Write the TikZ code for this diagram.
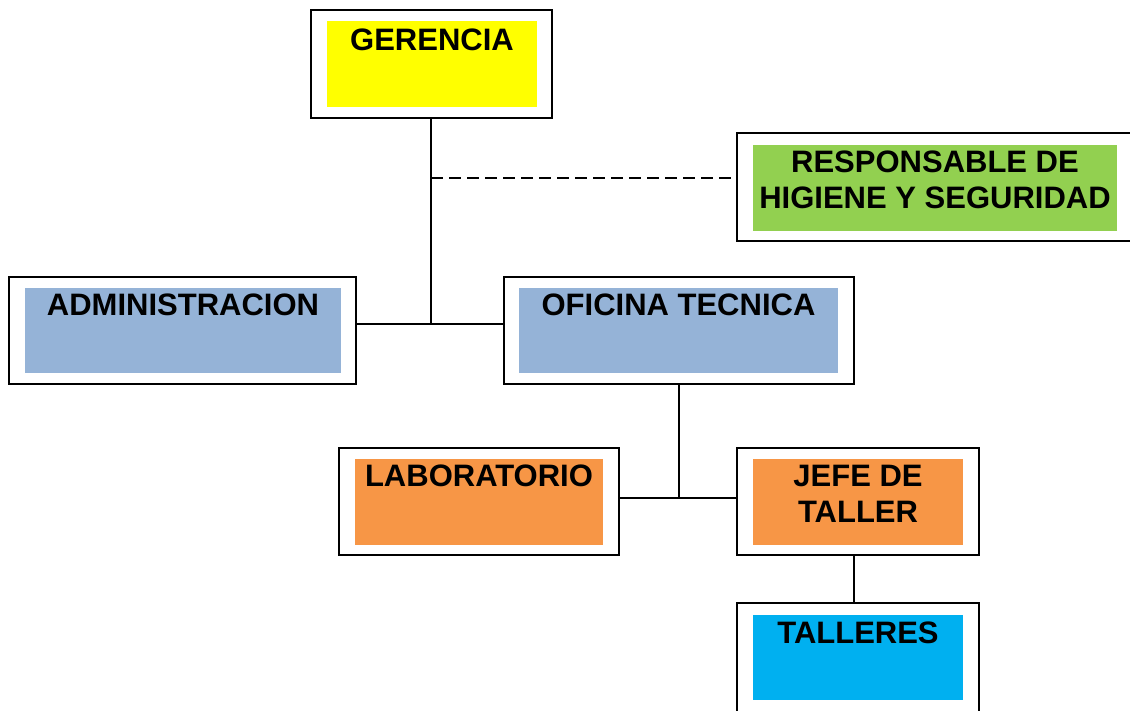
\documentclass[tikz,border=0pt]{standalone}
\usepackage{fontspec}
\setmainfont{Liberation Sans}
\definecolor{cyel}{HTML}{FFFF00}
\definecolor{cgrn}{HTML}{92D050}
\definecolor{cblu}{HTML}{95B3D7}
\definecolor{corg}{HTML}{F79646}
\definecolor{ccya}{HTML}{00B0F0}
\tikzset{
  outerbox/.style={draw=black, line width=1.6pt, fill=white, inner sep=0pt},
  innerbox/.style={inner sep=0pt, draw=none},
  lbl/.style={anchor=base, inner sep=0pt, font=\fontsize{31}{36}\selectfont\bfseries},
  conn/.style={line width=1.3pt, draw=black},
  dashconn/.style={conn, dash pattern=on 12pt off 6pt}
}
\begin{document}
\begin{tikzpicture}[x=1pt,y=-1pt]
\useasboundingbox (0,0) rectangle (1130,710);
% outer boxes
\node[outerbox, minimum width=241pt, minimum height=108pt] (ger) at (431.5,64) {};
\node[outerbox, minimum width=396pt, minimum height=108pt] (resp) at (935,187) {};
\node[outerbox, minimum width=347pt, minimum height=107pt] (adm) at (182.5,330.5) {};
\node[outerbox, minimum width=350pt, minimum height=107pt] (ofi) at (679,330.5) {};
\node[outerbox, minimum width=280pt, minimum height=107pt] (lab) at (479,501.5) {};
\node[outerbox, minimum width=242pt, minimum height=107pt] (jefe) at (858,501.5) {};
\node[outerbox, minimum width=242pt, minimum height=115pt] (tal) at (858,660.5) {};
% inner fills
\node[innerbox, fill=cyel, minimum width=210pt, minimum height=86pt] (geri) at (432,64) {};
\node[innerbox, fill=cgrn, minimum width=364pt, minimum height=86pt] (respi) at (935,188) {};
\node[innerbox, fill=cblu, minimum width=316pt, minimum height=85pt] (admi) at (183,330.5) {};
\node[innerbox, fill=cblu, minimum width=319pt, minimum height=85pt] (ofii) at (678.5,330.5) {};
\node[innerbox, fill=corg, minimum width=248pt, minimum height=86pt] (labi) at (479,502) {};
\node[innerbox, fill=corg, minimum width=210pt, minimum height=86pt] (jefei) at (858,502) {};
\node[innerbox, fill=ccya, minimum width=210pt, minimum height=85pt] (tali) at (858,657.5) {};
% labels
\node[lbl] (gert) at (432,50) {GERENCIA};
\node[lbl] (respt1) at (935,172) {RESPONSABLE DE};
\node[lbl] (respt2) at (935,208) {HIGIENE Y SEGURIDAD};
\node[lbl] (admt) at (183,315) {ADMINISTRACION};
\node[lbl] (ofit) at (678.5,315) {OFICINA TECNICA};
\node[lbl] (labt) at (479,486) {LABORATORIO};
\node[lbl] (jefet1) at (858,486) {JEFE DE};
\node[lbl] (jefet2) at (858,522) {TALLER};
\node[lbl] (talt) at (858,643) {TALLERES};
% junctions
\coordinate (j1) at (431,324);
\coordinate (d1) at (431,178);
\coordinate (j2) at (679,498);
\coordinate (j3) at (854,555);
% connectors
\draw[conn] (ger.south -| j1) -- (j1);
\draw[conn] (adm.east |- j1) -- (ofi.west |- j1);
\draw[dashconn] (d1) -- (resp.west |- d1);
\draw[conn] (ofi.south -| j2) -- (j2);
\draw[conn] (lab.east |- j2) -- (jefe.west |- j2);
\draw[conn] (jefe.south -| j3) -- (tal.north -| j3);
\end{tikzpicture}
\end{document}
